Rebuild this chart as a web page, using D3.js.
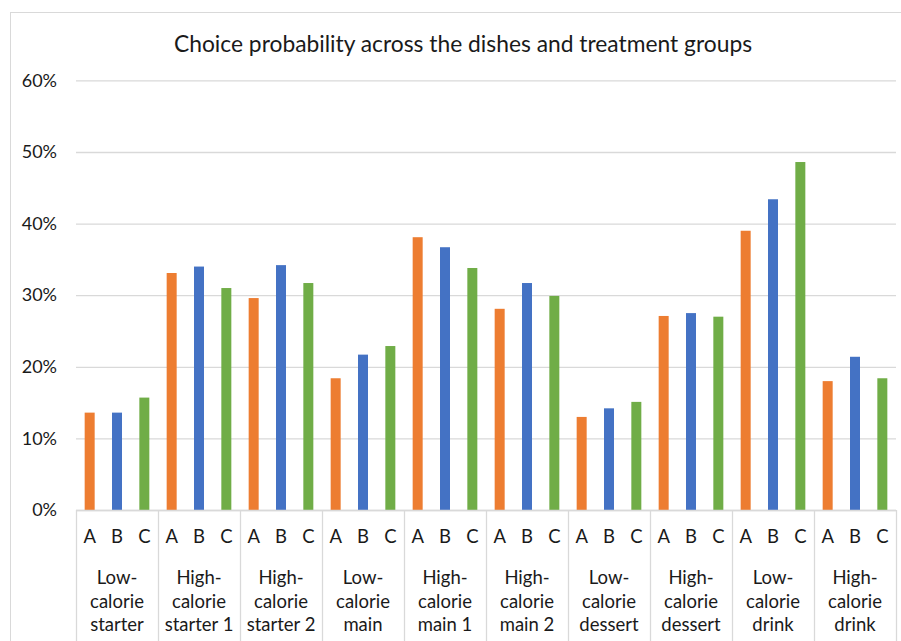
<!DOCTYPE html>
<html>
<head>
<meta charset="utf-8">
<script src="https://cdn.jsdelivr.net/npm/d3@7"></script>
<style>
  html, body { margin: 0; padding: 0; background: #fff; }
  svg { display: block; }
  text { font-family: Lato, "Open Sans", sans-serif; fill: #1a1a1a; }
</style>
</head>
<body>
<svg id="chart" width="901" height="641"></svg>
<script>
const categories = [
  "Low-calorie starter", "High-calorie starter 1", "High-calorie starter 2",
  "Low-calorie main", "High-calorie main 1", "High-calorie main 2",
  "Low-calorie dessert", "High-calorie dessert", "Low-calorie drink", "High-calorie drink"
];
const categoryLines = [
  ["Low-", "calorie", "starter"], ["High-", "calorie", "starter 1"], ["High-", "calorie", "starter 2"],
  ["Low-", "calorie", "main"], ["High-", "calorie", "main 1"], ["High-", "calorie", "main 2"],
  ["Low-", "calorie", "dessert"], ["High-", "calorie", "dessert"], ["Low-", "calorie", "drink"],
  ["High-", "calorie", "drink"]
];
const groups = ["A", "B", "C"];
const valuesA = [0.136, 0.331, 0.296, 0.184, 0.381, 0.281, 0.130, 0.271, 0.390, 0.180];
const valuesB = [0.136, 0.340, 0.342, 0.217, 0.367, 0.317, 0.142, 0.275, 0.434, 0.214];
const valuesC = [0.157, 0.310, 0.317, 0.229, 0.338, 0.299, 0.151, 0.270, 0.486, 0.184];
const yTicks = [0, 0.1, 0.2, 0.3, 0.4, 0.5, 0.6];
const title = "Choice probability across the dishes and treatment groups";
const colors = { A: "#ED7D31", B: "#4472C4", C: "#70AD47" };

const rows = categories.map((c, i) => ({ cat: c, lines: categoryLines[i], A: valuesA[i], B: valuesB[i], C: valuesC[i] }));

const svg = d3.select("#chart");
const plot = { left: 76, right: 896, top: 80.4, bottom: 510 };

// chart border
svg.append("rect")
  .attr("x", 10.5).attr("y", 12.5).attr("width", 900).attr("height", 640)
  .attr("fill", "none").attr("stroke", "#d9d9d9").attr("stroke-width", 1);

const x0 = d3.scaleBand().domain(categories).range([plot.left, plot.right]).padding(0);
const x1 = d3.scaleBand().domain(groups).range([0, x0.bandwidth()]).padding(0);
const y = d3.scaleLinear().domain([0, 0.6]).range([plot.bottom, plot.top]);
const barW = 10;

// gridlines + y labels
const yAxis = d3.axisLeft(y).tickValues(yTicks).tickFormat(d3.format(".0%"))
  .tickSize(-(plot.right - plot.left)).tickPadding(19);
const gy = svg.append("g").attr("transform", `translate(${plot.left},0)`).call(yAxis);
gy.select(".domain").remove();
gy.selectAll(".tick line").attr("stroke", "#d9d9d9").attr("stroke-width", 1.3);
gy.selectAll(".tick text").attr("font-size", 18).attr("fill", "#1a1a1a")
  .style("font-family", "Lato, 'Open Sans', sans-serif");

// title
svg.append("text").attr("x", 463).attr("y", 52).attr("text-anchor", "middle")
  .attr("font-size", 22.8).text(title);

// bars
const gBars = svg.append("g");
const cg = gBars.selectAll("g.cat").data(rows).join("g").attr("class", "cat")
  .attr("transform", d => `translate(${x0(d.cat)},0)`);
cg.selectAll("rect").data(d => groups.map(k => ({ k, v: d[k] }))).join("rect")
  .attr("x", d => x1(d.k) + x1.bandwidth() / 2 - barW / 2)
  .attr("width", barW)
  .attr("y", d => y(d.v))
  .attr("height", d => y(0) - y(d.v))
  .attr("fill", d => colors[d.k]);

// axis baseline
svg.append("line").attr("x1", plot.left).attr("x2", plot.right)
  .attr("y1", plot.bottom + 0.5).attr("y2", plot.bottom + 0.5)
  .attr("stroke", "#d9d9d9").attr("stroke-width", 1.3);

// group separators
const bounds = categories.map(c => x0(c)).concat([plot.right]);
svg.append("g").selectAll("line").data(bounds).join("line")
  .attr("x1", d => Math.round(d) + 0.5).attr("x2", d => Math.round(d) + 0.5)
  .attr("y1", plot.bottom).attr("y2", 641)
  .attr("stroke", "#d9d9d9").attr("stroke-width", 1.3);

// sub labels A B C
cg.selectAll("text.sub").data(groups).join("text").attr("class", "sub")
  .attr("x", d => x1(d) + x1.bandwidth() / 2).attr("y", 543)
  .attr("text-anchor", "middle").attr("font-size", 18.5).text(d => d);

// category labels
cg.append("text").attr("text-anchor", "middle").attr("font-size", 18.5)
  .selectAll("tspan").data(d => d.lines).join("tspan")
  .attr("x", x0.bandwidth() / 2)
  .attr("y", (d, i) => 584 + i * 23.5)
  .text(d => d);
</script>
</body>
</html>
